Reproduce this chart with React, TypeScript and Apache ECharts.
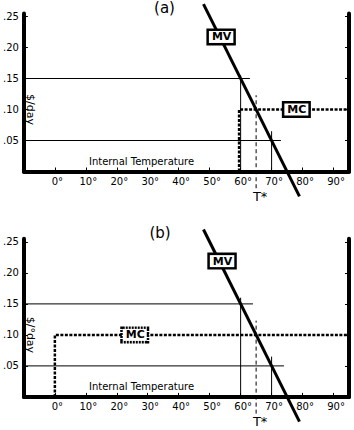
import React, { useEffect, useRef } from 'react';
import * as echarts from 'echarts';

const PANEL_TITLES = ['(a)', '(b)'];
const Y_NAMES = ['$/day', '$/°day'];
const X_NAME = 'Internal Temperature';
const X_TICKS = [0, 10, 20, 30, 40, 50, 60, 70, 80, 90];
const Y_TICKS = [0.05, 0.1, 0.15, 0.2, 0.25];

// Marginal value (MV) line – same in both panels
const MV_LINE = [[48, 0.27], [79, -0.04]];
// Marginal cost (MC) step lines
const MC_A = [[59.5, 0], [59.5, 0.1], [95, 0.1]];
const MC_B = [[0, 0], [0, 0.1], [95, 0.1]];
// reference lines
const H15 = [[[-10, 0.15], [63, 0.15]], [[-10, 0.15], [64, 0.15]]];
const H05 = [[[-10, 0.05], [73, 0.05]], [[-10, 0.05], [74, 0.05]]];
const V60 = [[[60, 0], [60, 0.155]], [[60, 0], [60, 0.16]]];
const V70 = [[[70, 0], [70, 0.065]], [[70, 0], [70, 0.065]]];
const T_STAR = [[65, -0.027], [65, 0.123]];
const T_STAR_LABEL = [66.3, -0.04];
// label anchor points
const MV_LABEL = [[53.7, 0.217], [54, 0.219]];
const MC_LABEL = [[78, 0.1], [25.8, 0.1]];

const FONT = 'DejaVu Sans';

export default function App() {
  const ref = useRef<HTMLDivElement>(null);
  useEffect(() => {
    if (!ref.current) return;
    const chart = echarts.init(ref.current, undefined, { renderer: 'svg' });
    const tops = [13.4, 238.8];
    const H = 158.1;
    const grids = tops.map((t) => ({ left: 21, width: 328, top: t, height: H, containLabel: false }));
    const xAxes = tops.map((_, i) => ({
      type: 'value', gridIndex: i, min: -10, max: 95,
      axisLine: { show: true, onZero: false, lineStyle: { color: '#000', width: 4 } },
      axisTick: { show: true, inside: true, length: 4, lineStyle: { color: '#000', width: 1 }, customValues: X_TICKS },
      axisLabel: { show: true, customValues: X_TICKS, formatter: (v: number) => v + '°', color: '#000', fontFamily: FONT, fontSize: 10, margin: 5, padding: [0, 0, 0, 5] },
      splitLine: { show: false },
    }));
    const yAxes: any[] = [];
    tops.forEach((_, i) => {
      yAxes.push({
        type: 'value', gridIndex: i, min: 0, max: 0.255, position: 'left',
        axisLine: { show: true, onZero: false, lineStyle: { color: '#000', width: 4 } },
        axisTick: { show: true, inside: true, length: 4, lineStyle: { color: '#000', width: 1 }, customValues: Y_TICKS },
        axisLabel: { show: true, customValues: Y_TICKS, formatter: (v: number) => '.' + String(Math.round(v * 100)).padStart(2, '0'), color: '#000', fontFamily: FONT, fontSize: 10, margin: 5 },
        splitLine: { show: false },
      });
      yAxes.push({
        type: 'value', gridIndex: i, min: 0, max: 0.255, position: 'right',
        axisLine: { show: true, onZero: false, lineStyle: { color: '#000', width: 4 } },
        axisTick: { show: true, inside: true, length: 4, lineStyle: { color: '#000', width: 1 }, customValues: Y_TICKS },
        axisLabel: { show: false },
        splitLine: { show: false },
      });
    });

    const thin = (data: number[][], i: number, extra: any = {}) => ({
      type: 'line', xAxisIndex: i, yAxisIndex: i * 2, data, symbol: 'none', silent: true,
      lineStyle: { color: '#000', width: 1, ...(extra.lineStyle || {}) }, clip: false, z: extra.z || 2,
    });
    const boxLabel = (text: string, dashed: boolean) => ({
      show: true, position: 'inside', formatter: text, color: '#000', fontFamily: FONT, fontWeight: 'bold', fontSize: 11,
      lineHeight: 11, backgroundColor: '#fff', borderColor: '#000', borderWidth: 2.5, opacity: 1,
      textBorderWidth: 0, borderType: dashed ? [2, 1] : 'solid', padding: [1, 2, 0, 3],
    });

    const series: any[] = [];
    [0, 1].forEach((i) => {
      series.push(thin(H15[i], i));
      series.push(thin(H05[i], i));
      series.push(thin(V60[i], i));
      series.push(thin(V70[i], i));
      series.push(thin(T_STAR, i, { lineStyle: { type: [4, 3] } }));
      series.push({
        type: 'line', xAxisIndex: i, yAxisIndex: i * 2, data: i === 0 ? MC_A : MC_B, symbol: 'none', silent: true,
        lineStyle: { color: '#000', width: 2.5, type: [3, 1.5] }, z: 3,
      });
      series.push({
        type: 'line', xAxisIndex: i, yAxisIndex: i * 2, data: MV_LINE, symbol: 'none', silent: true, clip: false,
        lineStyle: { color: '#000', width: 3 }, z: 4,
      });
      series.push({
        type: 'scatter', xAxisIndex: i, yAxisIndex: i * 2, symbolSize: 0, clip: false, silent: true, z: 10,
        itemStyle: { opacity: 1, color: '#000' },
        data: [{ value: MV_LABEL[i], label: boxLabel('MV', false) }, { value: MC_LABEL[i], label: boxLabel('MC', i === 1) }],
      });
      series.push({
        type: 'scatter', xAxisIndex: i, yAxisIndex: i * 2, symbolSize: 0, clip: false, silent: true, z: 10,
        itemStyle: { opacity: 1, color: '#000' },
        data: [{ value: T_STAR_LABEL, label: { show: true, position: 'inside', formatter: 'T*', color: '#000', fontFamily: FONT, fontSize: 13, textBorderWidth: 0, opacity: 1 } }],
      });
    });

    const graphic: any[] = [];
    [0, 1].forEach((i) => {
      const off = i * 225.4;
      graphic.push({ type: 'text', x: i === 0 ? 164.5 : 160, y: 7.5 + off, style: { text: PANEL_TITLES[i], font: `15px "${FONT}"`, fill: '#000', align: 'center', verticalAlign: 'middle' } });
      graphic.push({ type: 'text', x: 89, y: 161.5 + off, style: { text: X_NAME, font: `10px "${FONT}"`, fill: '#000', align: 'left', verticalAlign: 'middle' } });
      graphic.push({ type: 'text', x: 30, y: 109.5 + off, rotation: -Math.PI / 2, style: { text: Y_NAMES[i], font: `11px "${FONT}"`, fill: '#000', align: 'center', verticalAlign: 'middle' } });
    });

    chart.setOption({
      animation: false,
      backgroundColor: '#fff',
      grid: grids,
      xAxis: xAxes,
      yAxis: yAxes,
      series,
      graphic,
    });
    return () => chart.dispose();
  }, []);
  return <div ref={ref} style={{ position: 'fixed', left: 0, top: 0, width: 354, height: 430 }} />;
}
